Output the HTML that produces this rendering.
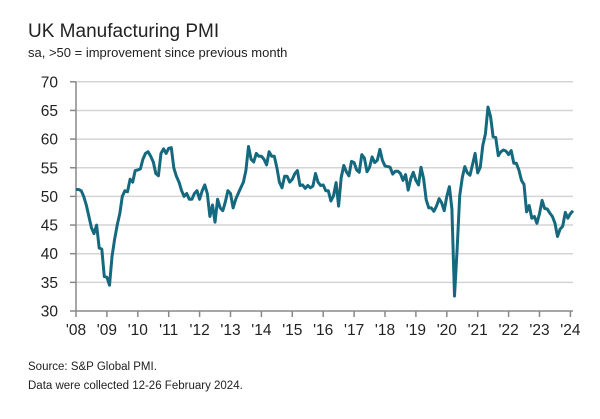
<!DOCTYPE html>
<html><head><meta charset="utf-8"><style>
body{margin:0;background:#fff;width:600px;height:414px;overflow:hidden;font-family:"Liberation Sans",sans-serif;}
svg text{font-family:"Liberation Sans",sans-serif;}
</style></head><body>
<svg id="chart" width="600" height="414" xmlns="http://www.w3.org/2000/svg">
<text x="28" y="37" font-size="19" fill="#222">UK Manufacturing PMI</text>
<text x="28" y="57" font-size="13" fill="#222">sa, &gt;50 = improvement since previous month</text>
<text x="28" y="370" font-size="11.5" fill="#222">Source: S&amp;P Global PMI.</text>
<text x="28" y="389" font-size="11.5" fill="#222">Data were collected 12-26 February 2024.</text>
<g id="grid"></g><g id="axes"></g><path id="line" fill="none" stroke="#15697e" stroke-width="3" stroke-linejoin="round"/>
</svg>
<script>
const yTicks=[30,35,40,45,50,55,60,65,70];
const xLabels=["'08","'09","'10","'11","'12","'13","'14","'15","'16","'17","'18","'19","'20","'21","'22","'23","'24"];
const startYear=2008;
const pmi=[
51.2,51.2,51.0,50.0,48.5,46.5,44.5,43.5,45.0,41.0,40.8,36.0,
35.9,34.5,39.5,42.5,45.0,47.0,50.0,51.0,50.8,53.0,52.5,54.5,
54.6,54.8,56.5,57.5,57.8,57.0,56.0,54.0,53.6,57.5,58.3,57.5,
58.4,58.5,55.0,53.5,52.5,51.0,50.0,50.5,49.5,49.5,50.5,51.0,
49.5,51.0,52.0,50.5,46.5,48.5,45.5,49.5,48.0,47.5,49.0,51.0,
50.5,48.0,49.5,50.5,51.5,52.5,54.5,58.7,56.5,56.0,57.5,57.0,
57.0,56.5,55.5,57.8,57.0,57.0,55.0,52.5,51.5,53.5,53.5,52.5,
53.0,54.0,54.5,51.9,52.0,51.4,51.9,51.5,51.8,54.0,52.5,51.9,
52.0,51.0,51.0,49.2,50.1,52.4,48.3,53.3,55.4,54.3,53.6,56.1,
55.9,54.6,54.2,57.3,56.7,54.3,55.1,56.9,55.9,56.3,58.2,56.3,
55.3,55.2,55.1,53.9,54.4,54.4,54.0,52.8,53.8,51.1,53.1,54.2,
52.8,52.0,55.1,53.1,49.4,48.0,48.0,47.4,48.3,49.6,48.9,47.5,
50.0,51.7,47.8,32.6,40.7,50.1,53.3,55.2,54.1,53.7,55.6,57.5,
54.1,55.1,58.9,60.9,65.6,63.9,60.4,60.3,57.1,57.8,58.1,57.9,
57.3,58.0,55.8,55.8,54.6,52.8,52.1,47.3,48.4,46.2,46.5,45.3,
47.0,49.3,47.9,47.8,47.1,46.5,45.3,43.0,44.3,44.8,47.2,46.2,
47.0,47.5];
const X0=76,YW=30.9,Y30=311,PU=5.73,RIGHT=573;
const xs=m=>X0+m/12*YW;
const ys=v=>Y30-(v-30)*PU;
const NS="http://www.w3.org/2000/svg";
const grid=document.getElementById('grid'),axes=document.getElementById('axes');
function mk(tag,attrs,parent){const e=document.createElementNS(NS,tag);for(const k in attrs)e.setAttribute(k,attrs[k]);parent.appendChild(e);return e;}
yTicks.forEach(t=>{
  const y=ys(t);
  if(t>30){const g=mk('line',{x1:X0,x2:RIGHT,y1:y,y2:y,stroke:'#d4d4d4','stroke-width':1.5},grid);
  
  }
  mk('line',{x1:X0-6,x2:X0,y1:y,y2:y,stroke:'#888','stroke-width':1.5},axes);
  const tx=mk('text',{x:58,y:y+5.5,'font-size':15.5,'text-anchor':'end',fill:'#222'},axes);
  tx.textContent=t;
  
  
});
mk('line',{x1:X0,x2:X0,y1:ys(70),y2:Y30,stroke:'#888','stroke-width':1.5},axes);
mk('line',{x1:X0,x2:RIGHT,y1:Y30,y2:Y30,stroke:'#888','stroke-width':1.5},axes);
xLabels.forEach((l,i)=>{
  const x=xs(i*12);
  mk('line',{x1:x,x2:x,y1:Y30,y2:Y30+6,stroke:'#888','stroke-width':1.5},axes);
  const tx=mk('text',{x:x,y:Y30+24,'font-size':15.5,'text-anchor':'middle',fill:'#222'},axes);
  tx.textContent=l;
  
  
});
document.getElementById('line').setAttribute('d',pmi.map((v,i)=>(i?'L':'M')+xs(i).toFixed(1)+','+ys(v).toFixed(1)).join(''));
</script>
</body></html>
